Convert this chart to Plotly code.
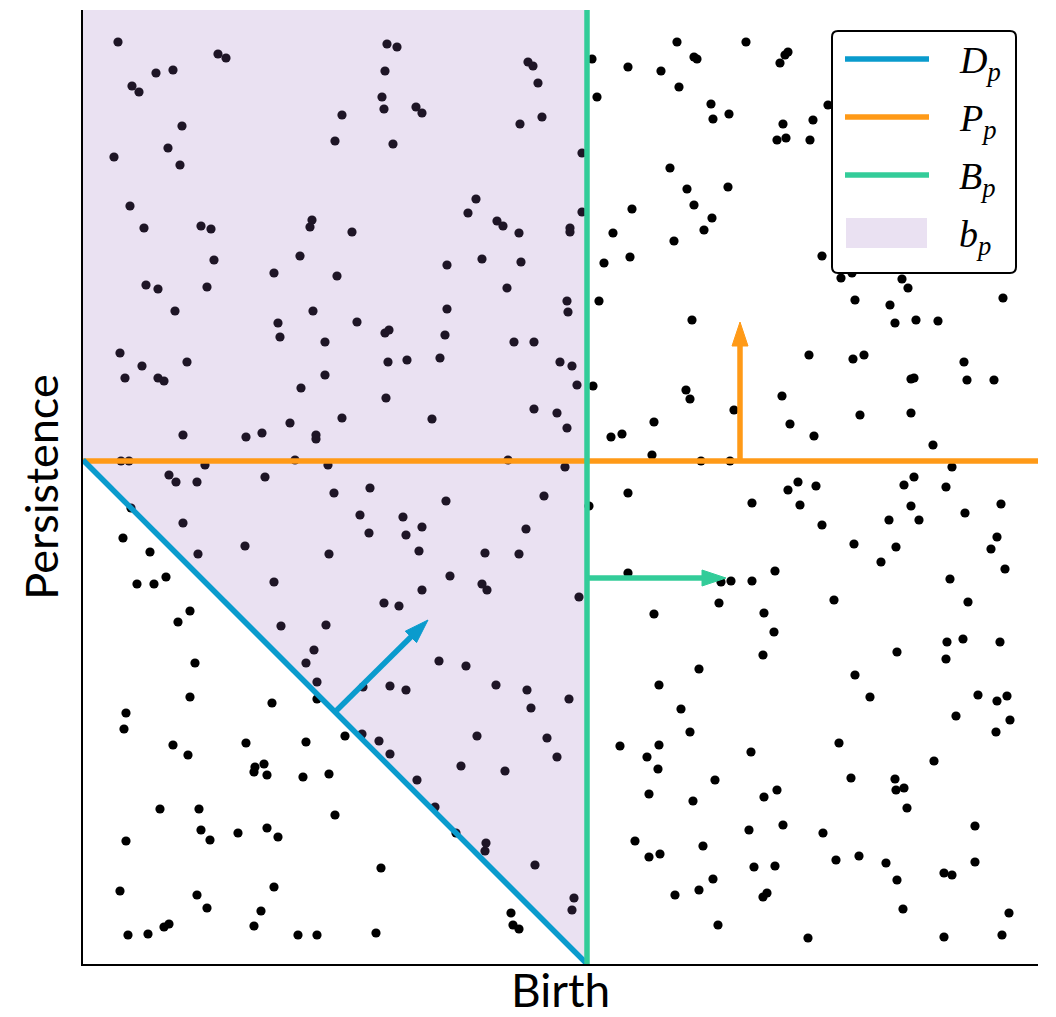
import plotly.graph_objects as go

# ---------------- data ----------------
birth = [35, 135, 143, 73, 90, 49, 56, 99, 85, 31, 97, 47, 61, 118, 128, 229, 227, 131, 217, 191,
         63, 75, 124, 92, 230, 195, 304, 314, 302, 445, 450, 455, 299, 301, 333, 339, 259, 459, 437, 252,
         310, 393, 385, 414, 420, 436, 269, 364, 399, 438, 254, 424, 364, 274, 306, 302, 484, 485, 509, 594,
         663, 611, 614, 705, 702, 697, 545, 578, 596, 514, 628, 630, 646, 700, 694, 703, 499, 587, 604, 645,
         611, 549, 499, 629, 621, 487, 487, 530, 591, 547, 521, 516, 609, 745, 730, 727, 739, 758, 769, 819,
         825, 772, 807, 920, 812, 833, 855, 197, 242, 37, 59, 42, 75, 81, 104, 242, 218, 207, 100, 163,
         179, 233, 233, 38, 46, 122, 212, 86, 93, 114, 182, 48, 100, 40, 67, 115, 162, 54, 71, 83,
         191, 107, 95, 198, 243, 231, 362, 431, 451, 305, 324, 357, 477, 303, 259, 349, 451, 474, 245, 425,
         287, 251, 363, 461, 277, 320, 339, 286, 323, 443, 246, 336, 402, 436, 367, 399, 404, 339, 301, 316,
         489, 494, 510, 603, 607, 699, 651, 571, 707, 484, 528, 539, 569, 618, 647, 482, 545, 506, 669, 705,
         715, 717, 545, 638, 648, 669, 692, 496, 636, 571, 681, 691, 726, 770, 781, 881, 828, 831, 884, 911,
         777, 828, 731, 850, 869, 733, 821, 831, 863, 828, 918, 882, 806, 836, 739, 914, 908, 771, 813, 798,
         922, 867, 751, 885, 864, 880, 917, 814, 112, 107, 43, 41, 189, 90, 105, 163, 223, 172, 181, 171,
         184, 220, 77, 116, 118, 127, 155, 184, 195, 43, 37, 114, 124, 191, 178, 171, 81, 86, 45, 65,
         215, 234, 223, 234, 234, 356, 383, 307, 323, 280, 413, 444, 448, 394, 464, 474, 279, 262, 296, 307,
         378, 422, 246, 334, 252, 352, 373, 403, 402, 452, 298, 428, 430, 436, 293, 680, 616, 576, 486, 598,
         607, 537, 576, 564, 575, 668, 632, 566, 610, 681, 694, 666, 700, 552, 566, 577, 620, 671, 692, 630,
         616, 592, 680, 684, 635, 491, 489, 863, 772, 787, 895, 914, 924, 873, 927, 913, 756, 851, 768, 812,
         813, 821, 824, 740, 892, 753, 776, 803, 892, 861, 869, 814, 820, 926, 725, 861, 919]
persistence = [922, 910, 906, 891, 894, 878, 872, 838, 816, 807, 799, 758, 736, 738, 735, 744, 737, 704, 708, 691,
               679, 675, 677, 653, 653, 641, 920, 917, 893, 902, 898, 881, 867, 855, 857, 851, 849, 847, 840, 823,
               820, 765, 751, 743, 738, 731, 732, 699, 705, 702, 688, 676, 655, 642, 634, 631, 663, 652, 905, 922,
               922, 907, 905, 912, 909, 901, 897, 893, 877, 867, 860, 845, 850, 840, 824, 826, 811, 796, 775, 777,
               759, 755, 752, 746, 734, 736, 732, 731, 723, 707, 701, 663, 644, 859, 844, 824, 708, 686, 691, 685,
               676, 664, 659, 666, 641, 644, 643, 627, 622, 611, 598, 586, 586, 583, 602, 589, 576, 541, 529, 527,
               531, 529, 525, 503, 503, 499, 504, 489, 482, 482, 487, 456, 441, 426, 412, 410, 418, 380, 380, 387,
               382, 353, 342, 338, 339, 314, 629, 622, 622, 602, 604, 606, 602, 566, 546, 545, 555, 551, 499, 504,
               476, 471, 463, 468, 449, 447, 437, 431, 429, 435, 410, 413, 411, 410, 388, 380, 374, 374, 361, 358,
               598, 579, 578, 574, 565, 568, 554, 542, 540, 536, 527, 530, 509, 503, 503, 497, 471, 458, 461, 474,
               482, 459, 391, 382, 383, 383, 393, 367, 361, 350, 351, 332, 609, 605, 609, 602, 585, 586, 584, 584,
               549, 551, 528, 519, 497, 478, 479, 487, 477, 458, 460, 451, 444, 444, 439, 427, 415, 420, 417, 402,
               395, 385, 364, 362, 322, 325, 322, 312, 301, 267, 251, 235, 261, 219, 209, 221, 222, 197, 200, 192,
               189, 187, 155, 155, 134, 124, 131, 136, 127, 123, 73, 69, 56, 77, 53, 38, 37, 40, 29, 30,
               29, 29, 301, 282, 265, 303, 298, 278, 274, 277, 279, 274, 256, 228, 226, 207, 230, 228, 223, 210,
               198, 193, 190, 184, 149, 157, 131, 121, 113, 99, 96, 51, 39, 35, 31, 309, 295, 279, 265, 255,
               232, 218, 219, 207, 195, 212, 184, 170, 163, 167, 174, 134, 139, 123, 107, 110, 118, 97, 98, 85,
               74, 69, 67, 71, 39, 66, 54, 305, 289, 267, 269, 263, 268, 248, 244, 232, 221, 203, 186, 185,
               174, 176, 156, 131, 138, 104, 108, 101, 102, 91, 89, 84, 55, 51, 26, 27, 29]

X_MAX = 955          # axis extent (birth)
Y_MAX = 954          # axis extent (persistence)
B_P = 504            # birth threshold
P_P = 503            # persistence threshold
D_P = 504            # death threshold (birth + persistence)

# arrows: (start, end) in data units
arrow_D = [(252, 252), (345, 344)]
arrow_P = [(657, 503), (657, 642)]
arrow_B = [(504, 386), (643, 386)]

legend_labels = ["<i>D</i><sub><i>p</i></sub>", "<i>P</i><sub><i>p</i></sub>",
                 "<i>B</i><sub><i>p</i></sub>", "<i>b</i><sub><i>p</i></sub>"]

# ---------------- styles ----------------
BLUE = "#0A9BCD"
ORANGE = "#FF9A17"
GREEN = "#33CC99"
PURPLE = "rgba(148,103,189,0.2)"
LW = 5.5

fig = go.Figure()

fig.add_trace(go.Scatter(x=birth, y=persistence, mode="markers",
                         marker=dict(color="black", size=9.2, line=dict(width=0)),
                         hoverinfo="skip", showlegend=False))

# b_p region (drawn over points, translucent)
fig.add_trace(go.Scatter(x=[0, B_P, B_P, 0, 0], y=[Y_MAX, Y_MAX, 0, D_P, Y_MAX],
                         mode="lines", fill="toself", fillcolor=PURPLE,
                         line=dict(width=0), hoverinfo="skip", showlegend=False))

fig.add_trace(go.Scatter(x=[0, X_MAX], y=[P_P, P_P], mode="lines",
                         line=dict(color=ORANGE, width=LW), hoverinfo="skip", showlegend=False))
fig.add_trace(go.Scatter(x=[0, D_P], y=[D_P, 0], mode="lines",
                         line=dict(color=BLUE, width=LW), hoverinfo="skip", showlegend=False))
fig.add_trace(go.Scatter(x=[B_P, B_P], y=[0, Y_MAX], mode="lines",
                         line=dict(color=GREEN, width=LW), hoverinfo="skip", showlegend=False))

# arrows (data units are isotropic here)
HEAD_L, HEAD_W = 24, 16


def add_arrow(seg, color):
    (x0, y0), (x1, y1) = seg
    dx, dy = x1 - x0, y1 - y0
    n = (dx * dx + dy * dy) ** 0.5
    ux, uy = dx / n, dy / n
    cx, cy = x1 - HEAD_L * ux, y1 - HEAD_L * uy
    nx, ny = -uy, ux
    fig.add_shape(type="line", x0=x0, y0=y0, x1=cx + 2 * ux, y1=cy + 2 * uy,
                  xref="x", yref="y", line=dict(color=color, width=LW), layer="above")
    hw = HEAD_W / 2
    path = (f"M{x1},{y1} L{cx + hw * nx},{cy + hw * ny} "
            f"L{cx - hw * nx},{cy - hw * ny} Z")
    fig.add_shape(type="path", path=path, xref="x", yref="y",
                  fillcolor=color, line=dict(color=color, width=1), layer="above")


add_arrow(arrow_D, BLUE)
add_arrow(arrow_P, ORANGE)
add_arrow(arrow_B, GREEN)

# ---------------- custom legend (paper coords from pixel layout) ----------------
L_M, T_M, W_P, H_P = 83, 10, 955, 954


def px(x):
    return (x - L_M) / W_P


def py(y):
    return (T_M + H_P - y) / H_P


bx0, bx1, by0, by1, r = 832, 1016, 31, 273, 6
pts = [("M", bx0 + r, by0), ("L", bx1 - r, by0), ("Q", bx1, by0, bx1, by0 + r),
       ("L", bx1, by1 - r), ("Q", bx1, by1, bx1 - r, by1), ("L", bx0 + r, by1),
       ("Q", bx0, by1, bx0, by1 - r), ("L", bx0, by0 + r), ("Q", bx0, by0, bx0 + r, by0)]
segs = []
for p in pts:
    if p[0] == "Q":
        segs.append(f"Q{px(p[1])},{py(p[2])} {px(p[3])},{py(p[4])}")
    else:
        segs.append(f"{p[0]}{px(p[1])},{py(p[2])}")
fig.add_shape(type="path", path=" ".join(segs) + " Z", xref="paper", yref="paper",
              fillcolor="white", line=dict(color="black", width=2), layer="above")

for yy, col in zip([59, 117, 175], [BLUE, ORANGE, GREEN]):
    fig.add_shape(type="line", xref="paper", yref="paper", x0=px(845), x1=px(929),
                  y0=py(yy), y1=py(yy), line=dict(color=col, width=LW), layer="above")
fig.add_shape(type="rect", xref="paper", yref="paper", x0=px(846), x1=px(927),
              y0=py(218), y1=py(248), fillcolor=PURPLE, line=dict(width=0), layer="above")

for yy, txt in zip([63, 121, 179, 237], legend_labels):
    fig.add_annotation(x=px(957), y=py(yy), xref="paper", yref="paper", text=txt,
                       showarrow=False, xanchor="left", yanchor="middle",
                       font=dict(family="Liberation Serif", size=38, color="black"))

axis_common = dict(showline=True, linecolor="black", linewidth=2, showgrid=False,
                   zeroline=False, showticklabels=False, ticks="", mirror=False,
                   automargin=False)

fig.update_layout(
    width=1056, height=1017,
    margin=dict(l=L_M, r=1056 - L_M - W_P, t=T_M, b=1017 - T_M - H_P, autoexpand=False),
    paper_bgcolor="white", plot_bgcolor="white",
    showlegend=False,
    xaxis=dict(range=[0, X_MAX], title=dict(text="Birth", standoff=14,
               font=dict(family="Lato", size=46, color="black")), **axis_common),
    yaxis=dict(range=[0, Y_MAX], title=dict(text="Persistence", standoff=8,
               font=dict(family="Lato", size=45, color="black")), **axis_common),
)

fig.write_html("out.html")
